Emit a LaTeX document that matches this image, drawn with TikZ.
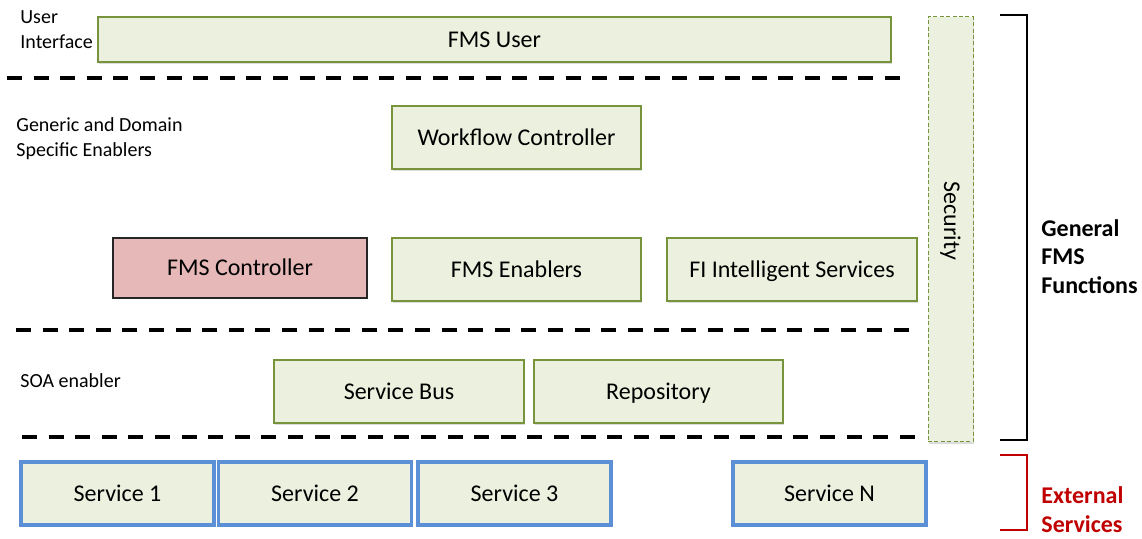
\documentclass[tikz,border=0pt]{standalone}
\usepackage{fontspec}
\setmainfont{Carlito}
\usetikzlibrary{shadows}
\definecolor{olivefill}{HTML}{EBF1DE}
\definecolor{oliveline}{HTML}{77933C}
\definecolor{rosefill}{HTML}{E6B9B8}
\definecolor{servblue}{HTML}{5B8FD6}
\definecolor{extred}{HTML}{C00000}
\tikzset{
  softshadow/.style={drop shadow={shadow xshift=0.6pt, shadow yshift=-1.2pt, fill=black!30, opacity=0.45}},
  boxtext/.style={font=\fontsize{12}{14}\selectfont, inner sep=0pt,
    text height=9pt, text depth=1.2pt},
  layerbox/.style={draw=oliveline, fill=olivefill, line width=0.7pt, softshadow, boxtext},
  ctrlbox/.style={draw=black!85, fill=rosefill, line width=0.6pt, boxtext},
  servbox/.style={draw=servblue, fill=olivefill, line width=1.8pt, softshadow, boxtext,
    minimum width=96.5pt, minimum height=31.5pt},
  secbox/.style={draw=oliveline, fill=olivefill, line width=0.5pt,
    dash pattern=on 2pt off 1.2pt, softshadow, inner sep=0pt},
  layerlabel/.style={anchor=north west, align=left, inner sep=0pt,
    font=\fontsize{10}{12.5}\selectfont},
  separator/.style={line width=2pt, dash pattern=on 7.5pt off 5.8pt},
  bracketline/.style={line width=1pt},
  sidenote/.style={anchor=north west, align=left, inner sep=0pt,
    font=\fontsize{12}{14.3}\selectfont\bfseries},
}
\begin{document}
\begin{tikzpicture}[x=0.5pt, y=-0.5pt]
  \useasboundingbox (0,0) rectangle (1142,539);

  % layer labels on the left
  \node[layerlabel] (lblui) at (20,10) {User\\Interface};
  \node[layerlabel] (lblgen) at (16,117) {Generic and Domain\\ Specific Enablers};
  \node[layerlabel] (lblsoa) at (20,373) {SOA enabler};

  % security column spanning the FMS layers
  \node[secbox, minimum width=22.5pt, minimum height=212.5pt] (sec) at (950.5,229.5) {};
  \node[rotate=-90, font=\fontsize{12}{14}\selectfont] (sectxt) at (950.5,221) {Security};

  % user interface layer
  \node[layerbox, minimum width=396.5pt, minimum height=22.5pt] (user) at (494.5,39.5) {FMS User};

  % enabler layer
  \node[layerbox, minimum width=124.5pt, minimum height=31.5pt] (wf) at (516.5,137.5) {Workflow Controller};
  \node[ctrlbox, minimum width=127pt, minimum height=30pt] (fmsc) at (240,268) {FMS Controller};
  \node[layerbox, minimum width=124.5pt, minimum height=31.5pt] (fmse) at (516.5,269.5) {FMS Enablers};
  \node[layerbox, minimum width=125pt, minimum height=31.5pt] (fi) at (792,269.5) {FI Intelligent Services};

  % SOA layer
  \node[layerbox, minimum width=125pt, minimum height=31.5pt] (bus) at (399,391.5) {Service Bus};
  \node[layerbox, minimum width=124.5pt, minimum height=31.5pt] (repo) at (658.5,391.5) {Repository};

  % external services
  \node[servbox] (s1) at (117.5,493.5) {Service 1};
  \node[servbox] (s2) at (315,493.5) {Service 2};
  \node[servbox] (s3) at (514.5,493.5) {Service 3};
  \node[servbox] (sn) at (829.5,493.5) {Service N};

  % layer separators
  \draw[separator] (7,78) -- (905,78);
  \draw[separator] (16,330) -- (913,330);
  \draw[separator] (22,437) -- (918,437);

  % brackets with their captions
  \coordinate (gtop) at (1000,15);
  \coordinate (gbot) at (1000,440);
  \draw[bracketline] (gtop) -- (1027,15) -- (1027,440) -- (gbot);
  \node[sidenote] (gen) at (1041,219) {General\\FMS\\Functions};

  \coordinate (etop) at (1000,455);
  \coordinate (ebot) at (1000,530);
  \draw[bracketline, extred] (etop) -- (1027,455) -- (1027,530) -- (ebot);
  \node[sidenote, text=extred, text depth=0pt, font=\fontsize{12}{14.5}\selectfont\bfseries] (ext) at (1041,486) {External\\Services};
\end{tikzpicture}
\end{document}
